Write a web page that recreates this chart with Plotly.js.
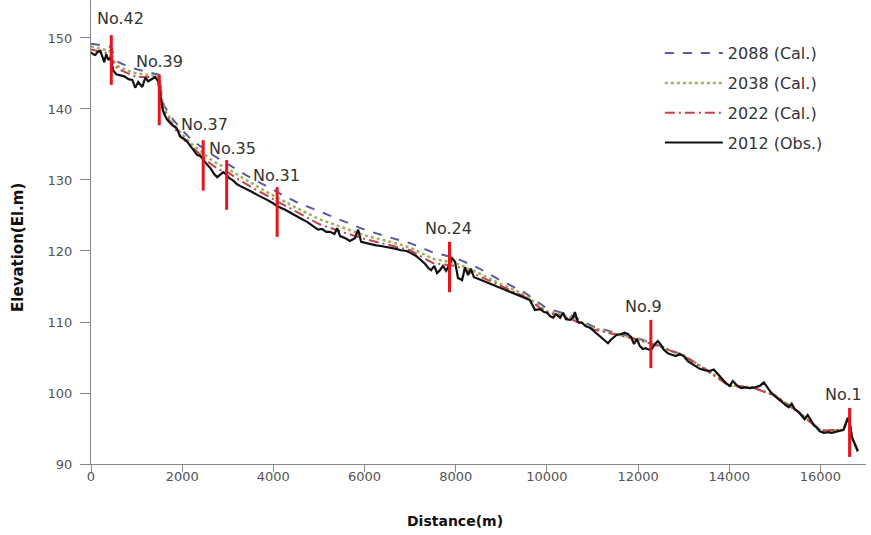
<!DOCTYPE html>
<html>
<head>
<meta charset="utf-8">
<script src="https://cdn.plot.ly/plotly-3.0.1.min.js"></script>
<style>html,body{margin:0;padding:0;background:#fff}#chart{width:871px;height:535px}</style>
</head>
<body>
<div id="chart"></div>
<script>
// ---- Observed bed profile 2012 ----
const distance = [0,50,95,140,205,250,290,335,380,425,465,490,555,640,730,820,905,970,1035,1125,1190,1255,1320,1410,1475,1520,1565,1605,1670,1740,1825,1890,1955,2045,2110,2200,2265,2330,2395,2460,2530,2615,2705,2770,2835,2900,2965,3030,3120,3205,3315,3425,3535,3645,3755,3865,3975,4085,4260,4410,4590,4740,4880,4980,5070,5160,5245,5340,5400,5465,5580,5680,5790,5860,5925,6035,6145,6255,6360,6470,6580,6690,6800,6920,7020,7130,7240,7325,7400,7460,7530,7590,7655,7720,7790,7850,7920,7985,8050,8140,8205,8270,8335,8400,8490,8600,8710,8840,8970,9100,9230,9365,9495,9625,9740,9850,9940,10005,10075,10140,10200,10290,10355,10420,10510,10570,10615,10680,10770,10855,10945,11030,11120,11205,11275,11340,11405,11470,11535,11625,11710,11780,11845,11910,11975,12040,12105,12170,12235,12300,12370,12435,12500,12565,12655,12740,12830,12915,13000,13090,13180,13265,13355,13460,13570,13660,13750,13835,13925,14010,14080,14165,14255,14340,14450,14560,14670,14760,14825,14890,14975,15065,15150,15240,15305,15370,15440,15525,15590,15655,15720,15790,15855,15920,15985,16075,16160,16250,16335,16425,16510,16555,16600,16640,16685,16730,16775,16820];
const elev2012 = [148.0,147.7,147.6,148.0,148.2,147.2,146.6,147.7,146.9,147.3,146.1,145.4,144.9,144.8,144.6,144.2,144.1,143.0,143.8,143.1,144.4,143.9,144.2,144.5,143.9,141.7,140.1,139.3,138.5,138.0,137.6,137.2,136.1,135.8,135.4,134.6,134.2,133.5,133.4,132.8,132.3,131.7,130.8,130.4,130.8,131.1,130.8,130.3,129.9,129.4,129.0,128.7,128.3,127.9,127.6,127.2,126.8,126.3,125.8,125.2,124.6,124.1,123.5,123.0,123.1,122.7,122.7,122.4,123.2,122.1,121.8,121.4,121.8,123.0,121.3,121.1,121.0,120.8,120.7,120.6,120.4,120.3,120.1,120.0,119.7,119.3,118.7,118.2,117.6,117.3,117.9,116.9,117.3,117.9,117.2,117.9,119.0,118.5,116.2,115.9,117.7,116.6,117.5,116.3,116.1,115.8,115.6,115.2,114.8,114.5,114.1,113.8,113.4,113.1,111.7,111.8,111.4,111.3,110.8,110.6,111.1,110.6,111.3,110.4,110.3,110.6,111.4,110.0,109.9,109.4,109.2,108.7,108.3,107.7,107.3,107.0,107.5,107.9,108.2,108.3,108.5,108.3,107.9,106.9,107.6,106.6,106.2,106.3,106.1,106.2,106.9,107.3,106.8,106.1,105.6,105.4,105.2,105.5,105.2,104.5,104.1,103.8,103.4,103.2,103.1,103.3,102.7,102.0,101.4,101.0,101.7,101.1,100.7,100.8,100.7,100.8,101.0,101.5,100.8,100.3,99.7,99.2,98.7,98.3,98.0,98.5,97.7,97.3,96.8,96.3,96.9,96.2,95.5,95.1,94.6,94.4,94.5,94.4,94.5,94.6,94.8,95.6,96.5,95.9,93.9,93.2,92.5,91.8];

// ---- Calculated bed profiles ----
const calDistance = [0,200,400,450,500,600,800,1000,1200,1400,1500,1550,1600,1800,2000,2200,2400,2600,2800,3000,3200,3400,3600,3800,4000,4200,4500,5000,5500,6000,6500,7000,7500,8000,8500,9000,9500,10000,10500,11000,11500,12000,12500,13000,13500,14000,14500,15000,15500,16000,16500,16600,16640,16700,16820];
const elev2088 = [149.2,149.0,148.8,148.6,147.5,146.6,146.0,145.6,145.3,145.0,144.8,142.0,140.5,138.5,137.0,135.7,134.7,133.8,133.0,132.2,131.5,130.7,130.0,129.3,128.5,127.9,126.9,125.6,124.3,123.0,122.0,121.1,119.8,119.0,117.6,115.8,114.2,111.9,111.0,109.4,108.5,107.7,106.6,105.3,103.3,101.1,100.8,99.7,97.4,94.8,94.8,96.4,95.9,93.6,91.9];
const elev2038 = [148.8,148.5,148.2,148.0,146.8,146.0,145.4,145.0,144.8,144.7,144.4,141.5,140.1,138.0,136.4,135.1,134.1,133.0,132.2,131.6,130.8,130.0,129.2,128.5,127.8,127.1,126.1,124.5,123.3,122.2,121.4,120.5,118.9,118.3,116.9,115.3,113.9,111.5,110.7,109.2,108.3,107.6,106.5,105.3,103.3,101.1,100.8,99.7,97.4,94.7,94.8,96.4,95.9,93.6,91.8];
const elev2022 = [148.4,148.1,147.8,147.5,146.2,145.6,145.0,144.5,144.5,144.5,144.0,141.0,139.8,137.5,135.9,134.7,133.6,132.4,131.5,131.1,130.2,129.4,128.7,128.0,127.3,126.6,125.6,123.8,122.7,121.7,120.9,120.1,118.3,117.9,116.5,115.0,113.6,111.3,110.5,109.0,108.2,107.5,106.5,105.2,103.2,101.0,100.8,99.6,97.4,94.7,94.8,96.4,95.9,93.6,91.8];

// ---- Cross-section stations ----
const stationNames = ["No.42","No.39","No.37","No.35","No.31","No.24","No.9","No.1"];
const stationDist = [445,1497,2461,2976,4083,7864,12281,16640];
const stationTop = [150.4,144.8,135.6,132.8,129.0,121.3,110.3,97.9];
const stationBottom = [143.4,137.7,128.5,125.8,122.0,114.2,103.5,91.0];

// ---- Axis ticks ----
const xTicks = [0,2000,4000,6000,8000,10000,12000,14000,16000];
const yTicks = [90,100,110,120,130,140,150];

const FONT = "DejaVu Sans, Verdana, sans-serif";

const stX = [], stY = [];
stationDist.forEach((d, i) => {
  stX.push(d, d, null);
  stY.push(stationBottom[i], stationTop[i], null);
});

const traces = [
  {x: calDistance, y: elev2088, name: "2088 (Cal.)", mode: "lines", legendgroup: "a",
   line: {color: "#5a5aa6", width: 2, dash: "dash"}},
  {x: calDistance, y: elev2038, name: "2038 (Cal.)", mode: "lines", legendgroup: "b",
   line: {color: "#9bb25a", width: 2.5, dash: "dot"}},
  {x: calDistance, y: elev2022, name: "2022 (Cal.)", mode: "lines", legendgroup: "c",
   line: {color: "#c8404f", width: 2, dash: "10px,4px,2px,4px"}},
  {x: distance, y: elev2012, name: "2012 (Obs.)", mode: "lines", legendgroup: "d",
   line: {color: "#111111", width: 2.2}},
  {x: stX, y: stY, mode: "lines", showlegend: false, hoverinfo: "skip",
   line: {color: "#e8141c", width: 3}}
];

const labelShift = [[9, 5], [0, 2], [1, 4], [6, 0], [-1, 0], [-1, 2], [-7, 2], [-6, 2]];
const annotations = stationNames.map((n, i) => ({
  x: stationDist[i], y: stationTop[i], xref: "x", yref: "y", text: n, showarrow: false,
  xanchor: "center", yanchor: "bottom", xshift: labelShift[i][0], yshift: labelShift[i][1],
  font: {family: FONT, size: 16, color: "#333333"}
}));
annotations.push({
  text: "<b>Distance(m)</b>", xref: "paper", yref: "paper", x: 0.47, y: -0.122,
  xanchor: "center", yanchor: "middle", showarrow: false,
  font: {family: FONT, size: 14, color: "#111111"}
});
annotations.push({
  text: "<b>Elevation(El.m)</b>", xref: "paper", yref: "paper", x: -0.094, y: 0.466,
  xanchor: "center", yanchor: "middle", showarrow: false, textangle: -90,
  font: {family: FONT, size: 15, color: "#111111"}
});

const layout = {
  width: 871, height: 535,
  margin: {l: 91, r: 5, t: 0, b: 71},
  paper_bgcolor: "#ffffff", plot_bgcolor: "#ffffff",
  font: {family: FONT, color: "#555555", size: 13},
  showlegend: true,
  legend: {x: 0.734, y: 0.922, xanchor: "left", yanchor: "top", bgcolor: "rgba(0,0,0,0)",
           font: {family: FONT, size: 16, color: "#333333"}, tracegroupgap: 6,
           itemwidth: 58, traceorder: "grouped"},
  xaxis: {range: [0, 17000], tickvals: xTicks, ticktext: xTicks.map(String),
          showgrid: false, zeroline: false, showline: true, linecolor: "#888888", linewidth: 1,
          ticks: "outside", ticklen: 7, tickcolor: "#888888", ticklabelstandoff: -7,
          tickfont: {family: FONT, size: 13, color: "#555555"}},
  yaxis: {range: [90, 155.35], tickvals: yTicks, ticktext: yTicks.map(String),
          showgrid: false, zeroline: false, showline: true, linecolor: "#888888", linewidth: 1,
          ticks: "outside", ticklen: 10, tickcolor: "#888888", ticklabelstandoff: 5,
          tickfont: {family: FONT, size: 13, color: "#555555"}},
  annotations: annotations
};

Plotly.newPlot("chart", traces, layout, {displayModeBar: false, staticPlot: true});
</script>
</body>
</html>
